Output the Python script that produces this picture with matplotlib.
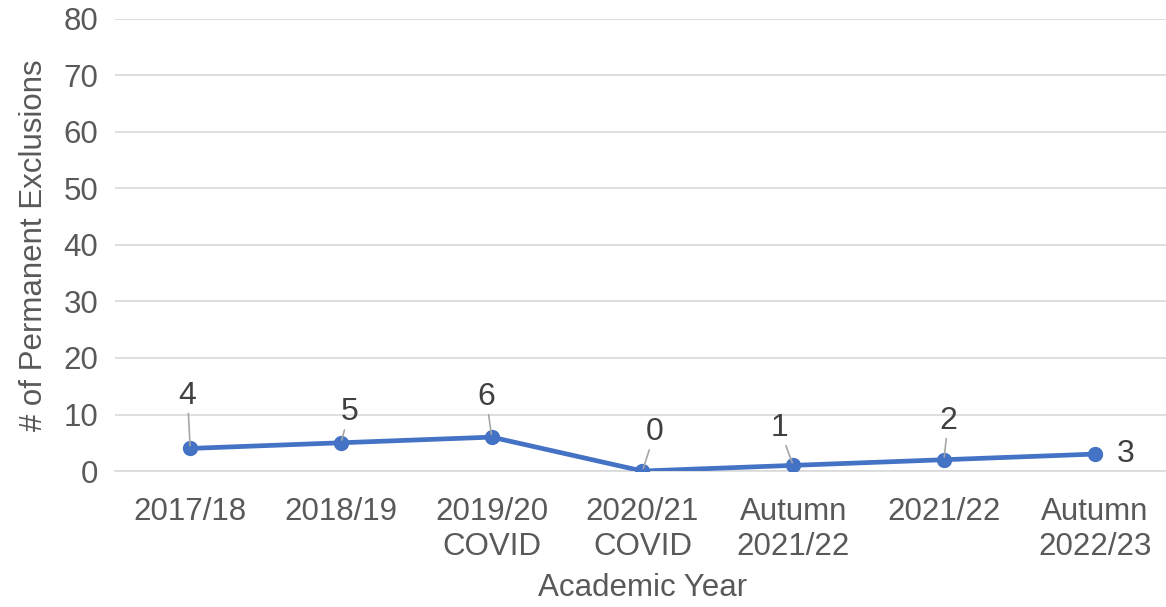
import matplotlib
matplotlib.use("Agg")
import matplotlib.pyplot as plt

categories = ["2017/18", "2018/19", "2019/20\nCOVID", "2020/21\nCOVID", "Autumn\n2021/22", "2021/22", "Autumn\n2022/23"]
values = [4, 5, 6, 0, 1, 2, 3]
yticks = [0, 10, 20, 30, 40, 50, 60, 70, 80]
# label offsets (points) of label centre relative to each data point
label_offsets = [(-2, 38), (6, 22), (-4, 29), (9, 28), (-10, 27), (3, 28), (22, 0)]

plt.rcParams['font.family'] = ['Liberation Sans', 'DejaVu Sans']
fig = plt.figure(figsize=(11.66, 6.07), dpi=100)
ax = fig.add_axes([0.0985, 0.224, 0.905, 0.745])

x = list(range(len(categories)))
ax.plot(x, values, color='#4472C4', lw=3.4, marker='o', ms=10, zorder=3, solid_capstyle='round')

for xi, v, (dx, dy) in zip(x, values, label_offsets):
    if dy > 0:
        ax.annotate(str(v), xy=(xi, v), xytext=(dx, dy), textcoords='offset points',
                    ha='center', va='center', fontsize=23, color='#404040',
                    arrowprops=dict(arrowstyle='-', color='#A6A6A6', lw=1.2, shrinkA=0, shrinkB=2),
                    zorder=4)
    else:
        ax.annotate(str(v), xy=(xi, v), xytext=(dx, dy), textcoords='offset points',
                    ha='center', va='center', fontsize=23, color='#404040', zorder=4)

ax.set_xlim(-0.5, len(categories) - 0.5)
ax.set_ylim(0, 80)
ax.set_yticks(yticks)
ax.set_xticks(x)
ax.set_xticklabels(categories, linespacing=1.2)
ax.tick_params(axis='both', length=0, labelsize=22.5, labelcolor='#595959')
ax.tick_params(axis='x', pad=19)
ax.tick_params(axis='y', pad=12)
ax.grid(axis='y', color='#D9D9D9', lw=1.2, zorder=0)
for s in ['top', 'right', 'left']:
    ax.spines[s].set_visible(False)
ax.spines['bottom'].set_color('#D9D9D9')
ax.spines['bottom'].set_linewidth(1.2)
ax.set_axisbelow(True)

ax.set_xlabel('Academic Year', fontsize=22.5, color='#595959', labelpad=8)
ax.set_ylabel('# of Permanent Exclusions', fontsize=22.5, color='#595959', labelpad=10)

fig.savefig('out.png', dpi=100)
